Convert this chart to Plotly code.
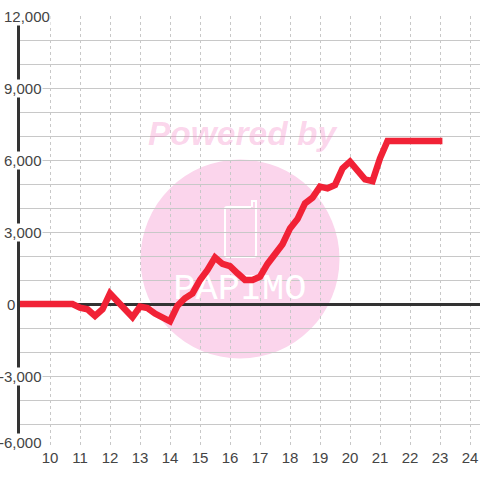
import plotly.graph_objects as go

months = [8.9, 10, 10.75, 11, 11.25, 11.5, 11.75, 12, 12.25, 12.5, 12.75, 13, 13.25, 13.5, 13.75, 14,
          14.25, 14.5, 14.75, 15, 15.25, 15.5, 15.75, 16, 16.25, 16.5, 16.75, 17, 17.25, 17.5, 17.75,
          18, 18.25, 18.5, 18.75, 19, 19.25, 19.5, 19.75, 20, 20.25, 20.5, 20.75, 21, 21.25, 22, 23.08]
values = [0, 0, 0, -150, -220, -500, -220, 440, 110, -220, -550, -110, -170, -400, -530, -720,
          -70, 240, 440, 1000, 1420, 1940, 1670, 1580, 1280, 1000, 1000, 1140, 1670, 2070, 2490,
          3150, 3540, 4190, 4430, 4890, 4820, 4960, 5650, 5930, 5550, 5190, 5120, 6070, 6790, 6790, 6790]
x_ticks = list(range(10, 25))
y_tick_values = [12000, 9000, 6000, 3000, 0, -3000, -6000]
y_tick_labels = ["12,000", "9,000", "6,000", "3,000", "0", "-3,000", "-6,000"]
label_shift = {12000: 31, 0: -4}
label_lift = {-6000: 6}

L, R, T, B = 20, 480, 16, 448
def px(x): return (x - L) / (R - L)
def py(y): return (B - y) / (B - T)

PINK = "#fbd5ec"
TXT = "#444444"
GRID = "#c8c8c8"
DARK = "#333333"

fig = go.Figure()

# watermark text, drawn as text traces so the data line stays on top
fig.add_trace(go.Scatter(x=[16.4], y=[6990], mode="text", text=["<b><i>Powered by</i></b>"],
                         textfont=dict(family="Liberation Sans", size=33.5, color="rgba(245,130,195,0.33)"),
                         hoverinfo="skip", showlegend=False))
fig.add_trace(go.Scatter(x=[16.33], y=[580], mode="text", text=["PAPIMO"],
                         textfont=dict(family="Liberation Mono", size=37, color="white"),
                         hoverinfo="skip", showlegend=False))
fig.add_trace(go.Scatter(x=months, y=values, mode="lines", cliponaxis=False,
                         line=dict(color="#f12236", width=6.5), hoverinfo="skip", showlegend=False))

fig.add_shape(type="circle", xref="paper", yref="paper", layer="below",
              x0=px(140.5), x1=px(339.5), y0=py(358.5), y1=py(159.5),
              fillcolor=PINK, line_width=0)
fig.add_shape(type="path", xref="paper", yref="paper", layer="below",
              path=f"M {px(251)} {py(207)} L {px(227)} {py(207)} Q {px(225)} {py(207)} {px(225)} {py(209)} "
                   f"L {px(225)} {py(255)} Q {px(225)} {py(257)} {px(227)} {py(257)} "
                   f"L {px(254)} {py(257)} Q {px(256)} {py(257)} {px(256)} {py(255)} "
                   f"L {px(256)} {py(201)} L {px(252)} {py(201)} L {px(252)} {py(207)}",
              line=dict(color="white", width=2))

for v, t in zip(y_tick_values, y_tick_labels):
    fig.add_annotation(xref="paper", yref="y", x=0, y=v, text=t, showarrow=False,
                       xanchor="right", xshift=label_shift.get(v, 23), yshift=label_lift.get(v, 0),
                       bgcolor="white", borderpad=0,
                       font=dict(family="Liberation Sans", size=15, color=TXT))

fig.update_layout(
    width=480, height=480, autosize=False,
    margin=dict(l=L, r=480 - R, t=T, b=480 - B, pad=0),
    paper_bgcolor="white", plot_bgcolor="rgba(0,0,0,0)",
    showlegend=False,
    xaxis=dict(range=[9, 24.333], tickmode="array", tickvals=x_ticks, ticktext=[str(v) for v in x_ticks],
               showgrid=True, gridcolor=GRID, griddash="3px,3px", gridwidth=1,
               zeroline=False, showline=False, ticks="", ticklabelstandoff=-1,
               tickfont=dict(family="Liberation Sans", size=15, color=TXT)),
    yaxis=dict(range=[-6000, 12000], dtick=1000, tick0=0, showticklabels=False,
               showgrid=True, gridcolor=GRID, gridwidth=1,
               zeroline=True, zerolinecolor=DARK, zerolinewidth=3,
               showline=True, linecolor=DARK, linewidth=3, ticks=""),
)
fig.write_html("out.html", config={"displayModeBar": False},
               post_script="document.body.style.margin='0';document.documentElement.style.overflow='hidden';")
